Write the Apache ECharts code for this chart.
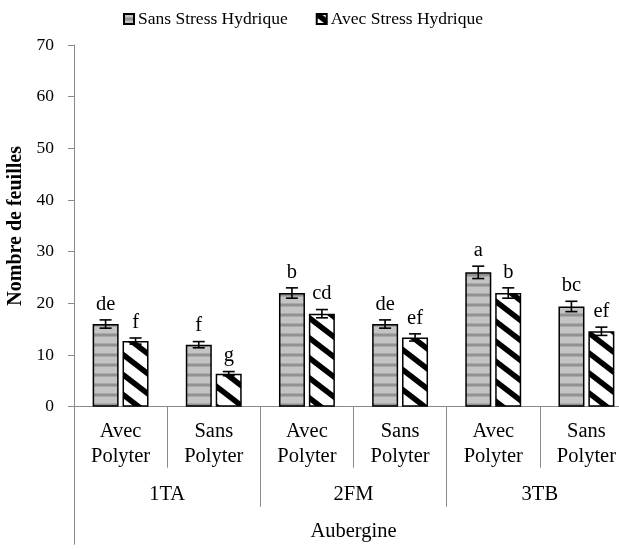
<!DOCTYPE html>
<html>
<head>
<meta charset="utf-8">
<script src="https://cdn.jsdelivr.net/npm/echarts@6/dist/echarts.min.js"></script>
<style>
  html, body { margin: 0; padding: 0; background: #fff; }
  #main { width: 619px; height: 549px; }
</style>
</head>
<body>
<div id="main"></div>
<script>
// data
var varietes = ['Avec\nPolyter', 'Sans\nPolyter', 'Avec\nPolyter', 'Sans\nPolyter', 'Avec\nPolyter', 'Sans\nPolyter'];
var lignees = ['1TA', '2FM', '3TB'];
var culture = ['Aubergine'];
var sansStress = [16, 12, 22, 16, 26, 19.4];
var sansStressErr = [0.8, 0.6, 1.0, 0.8, 1.2, 1.0];
var avecStress = [12.7, 6.4, 18, 13.4, 22, 14.6];
var avecStressErr = [0.6, 0.4, 0.8, 0.7, 1.0, 0.8];
var sansLettres = ['de', 'f', 'b', 'de', 'a', 'bc'];
var avecLettres = ['f', 'g', 'cd', 'ef', 'b', 'ef'];
var yTicks = [0, 10, 20, 30, 40, 50, 60, 70];

var FONT = '"Liberation Serif", "Times New Roman", serif';
var FS = 17.5;   // legende, graduations y
var FX = 20.5;   // etiquettes x et lettres
var GRAY = '#8a8a8a';

// motifs de remplissage
function stripesHoriz() {
  var c = document.createElement('canvas');
  c.width = 8; c.height = 10;
  var ctx = c.getContext('2d');
  ctx.fillStyle = '#c4c4c4';
  ctx.fillRect(0, 0, 8, 10);
  ctx.fillStyle = '#aaaaaa';
  ctx.fillRect(0, 3, 8, 1);
  ctx.fillStyle = '#929292';
  ctx.fillRect(0, 4, 8, 2);
  ctx.fillStyle = '#aaaaaa';
  ctx.fillRect(0, 6, 8, 1);
  return c;
}
function stripesDiag() {
  var w = 26, h = 20;
  var c = document.createElement('canvas');
  c.width = w; c.height = h;
  var ctx = c.getContext('2d');
  ctx.fillStyle = '#fff';
  ctx.fillRect(0, 0, w, h);
  ctx.strokeStyle = '#000';
  ctx.lineWidth = 5.5;
  for (var k = -1; k <= 1; k++) {
    ctx.beginPath();
    ctx.moveTo(k * w - 2 * w, -2 * h);
    ctx.lineTo(k * w + 2 * w, 2 * h);
    ctx.stroke();
  }
  return c;
}

function errorSeries(name, vals, errs, lettres, offset) {
  var data = vals.map(function (v, i) { return [i, v - errs[i], v + errs[i]]; });
  return {
    name: name,
    type: 'custom',
    xAxisIndex: 0,
    z: 10,
    silent: true,
    data: data,
    renderItem: function (params, api) {
      var hi = api.coord([api.value(0), api.value(2)]);
      var lo = api.coord([api.value(0), api.value(1)]);
      var x = hi[0] + offset;
      var st = { stroke: '#000', lineWidth: 1.6 };
      return {
        type: 'group',
        children: [
          { type: 'line', shape: { x1: x, y1: hi[1], x2: x, y2: lo[1] }, style: st },
          { type: 'line', shape: { x1: x - 6, y1: hi[1], x2: x + 6, y2: hi[1] }, style: st },
          { type: 'line', shape: { x1: x - 6, y1: lo[1], x2: x + 6, y2: lo[1] }, style: st },
          {
            type: 'text', x: x, y: hi[1] - 5,
            style: {
              text: lettres[params.dataIndex], fill: '#000',
              fontSize: FX, fontFamily: FONT,
              align: 'center', verticalAlign: 'bottom'
            }
          }
        ]
      };
    }
  };
}

var chart = echarts.init(document.getElementById('main'));
chart.setOption({
  backgroundColor: '#fff',
  animation: false,
  textStyle: { fontFamily: FONT, color: '#000' },
  legend: {
    data: ['Sans Stress Hydrique', 'Avec Stress Hydrique'],
    left: 118, top: 5,
    icon: 'rect', itemWidth: 10, itemHeight: 10, itemGap: 28,
    textStyle: { fontSize: FS, fontFamily: FONT, color: '#000', padding: [0, 0, 0, -1] }
  },
  grid: { left: 74, top: 45, bottom: 142.3, right: -14, outerBoundsMode: 'none', containLabel: false },
  xAxis: [
    {
      type: 'category', data: varietes, position: 'bottom',
      axisLine: { show: true, lineStyle: { color: GRAY, width: 1 } },
      axisTick: { show: true, length: 61, interval: 0, lineStyle: { color: GRAY } },
      axisLabel: { interval: 0, margin: 12.5, fontSize: FX, lineHeight: 25, fontFamily: FONT, color: '#000' }
    },
    {
      type: 'category', data: lignees, position: 'bottom',
      axisLine: { show: false },
      axisTick: { show: true, length: 100, interval: 0, lineStyle: { color: GRAY } },
      axisLabel: { interval: 0, margin: 76, fontSize: FX, lineHeight: 24, fontFamily: FONT, color: '#000' }
    },
    {
      type: 'category', data: culture, position: 'bottom',
      axisLine: { show: false },
      axisTick: { show: true, length: 138, interval: 0, lineStyle: { color: GRAY } },
      axisLabel: { interval: 0, margin: 113, fontSize: FX, lineHeight: 24, fontFamily: FONT, color: '#000' }
    }
  ],
  yAxis: {
    type: 'value', min: yTicks[0], max: yTicks[yTicks.length - 1], interval: 10,
    name: 'Nombre de feuilles', nameLocation: 'middle', nameRotate: 90, nameGap: 47,
    nameTextStyle: { fontSize: 20, fontWeight: 'bold', fontFamily: FONT, color: '#000' },
    axisLine: { show: true, lineStyle: { color: GRAY, width: 1 } },
    axisTick: { show: true, length: 6, lineStyle: { color: GRAY } },
    axisLabel: { margin: 20, fontSize: FS, fontFamily: FONT, color: '#000' },
    splitLine: { show: false }
  },
  series: [
    {
      name: 'Sans Stress Hydrique', type: 'bar', xAxisIndex: 0,
      barWidth: 26, barGap: '15%',
      itemStyle: { color: { image: stripesHoriz(), repeat: 'repeat' }, borderColor: '#000', borderWidth: 1.5 },
      data: sansStress
    },
    {
      name: 'Avec Stress Hydrique', type: 'bar', xAxisIndex: 0,
      barWidth: 26, barGap: '15%',
      itemStyle: { color: { image: stripesDiag(), repeat: 'repeat' }, borderColor: '#000', borderWidth: 1.5 },
      data: avecStress
    },
    errorSeries('errSans', sansStress, sansStressErr, sansLettres, -15),
    errorSeries('errAvec', avecStress, avecStressErr, avecLettres, 15)
  ]
});
</script>
</body>
</html>
